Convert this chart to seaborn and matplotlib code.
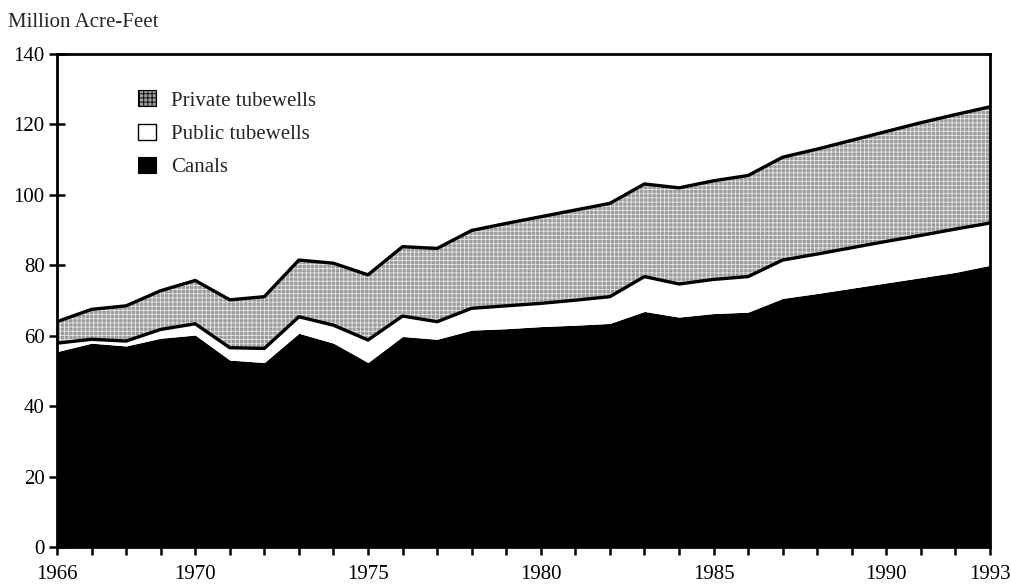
import matplotlib
matplotlib.use("Agg")
import matplotlib.pyplot as plt
import seaborn as sns
import pandas as pd
from matplotlib.patches import Patch

years = list(range(1966, 1994))
canals = [55.5, 57.9, 57.1, 59.3, 60.2, 53.1, 52.4, 60.7, 57.9, 52.4,
          59.8, 59.0, 61.6, 62.0, 62.6, 63.0, 63.5, 66.9, 65.3, 66.3,
          66.7, 70.6, 72.0, 73.5, 75.0, 76.5, 78.0, 80.0]
public_top = [57.9, 59.0, 58.5, 61.8, 63.4, 56.6, 56.4, 65.4, 63.0, 58.8,
              65.6, 64.0, 67.8, 68.5, 69.2, 70.1, 71.1, 76.8, 74.7, 76.0,
              76.8, 81.5, 83.2, 85.0, 86.8, 88.5, 90.3, 92.0]
private_top = [64.0, 67.5, 68.5, 72.8, 75.7, 70.2, 71.1, 81.5, 80.6, 77.3,
               85.3, 84.8, 89.9, 91.9, 93.8, 95.7, 97.6, 103.1, 102.0, 104.0,
               105.5, 110.7, 113.0, 115.5, 118.0, 120.5, 122.8, 125.0]
year_labels = [1966, 1970, 1975, 1980, 1985, 1990, 1993]
y_ticks = [0, 20, 40, 60, 80, 100, 120, 140]

df = pd.DataFrame({"year": years, "canals": canals,
                   "public": public_top, "private": private_top})

sns.set_theme(style="white")
plt.rcParams["font.family"] = ["Liberation Serif", "DejaVu Serif"]
plt.rcParams["hatch.linewidth"] = 0.6

fig = plt.figure(figsize=(10.11, 5.87), dpi=100)
ax = fig.add_axes([0.0564, 0.068, 0.9228, 0.840])

gray = "#9c9c9c"
# capas apiladas
ax.fill_between(df["year"], 0, df["canals"], color="black", lw=0)
ax.fill_between(df["year"], df["canals"], df["public"], color="white", lw=0)
ax.fill_between(df["year"], df["public"], df["private"], facecolor=gray,
                edgecolor="#e6e6e6", hatch="++++", lw=0)

sns.lineplot(data=df, x="year", y="public", color="black", lw=2.4, ax=ax)
sns.lineplot(data=df, x="year", y="private", color="black", lw=2.4, ax=ax)

ax.set_xlim(1966, 1993)
ax.set_ylim(0, 140)
ax.set_xticks(year_labels)
ax.set_xticklabels([str(y) for y in year_labels], fontsize=15)
ax.set_xticks(years, minor=True)
ax.set_yticks(y_ticks)
ax.set_yticklabels([str(v) for v in y_ticks], fontsize=15)
ax.set_xlabel("")
ax.set_ylabel("")

ax.tick_params(axis="y", direction="inout", length=12, width=1.8,
               left=True, pad=3, colors="black")
ax.tick_params(axis="x", which="both", direction="out", length=6,
               width=1.8, bottom=True, pad=7, colors="black")
for s in ax.spines.values():
    s.set_color("black")
    s.set_linewidth(2.0)

fig.text(0.008, 0.962, "Million Acre-Feet", fontsize=15, ha="left", va="center")

handles = [Patch(facecolor=gray, edgecolor="black", hatch="++++", lw=0.8),
           Patch(facecolor="white", edgecolor="black", lw=1.0),
           Patch(facecolor="black", edgecolor="black", lw=0.8)]
ax.legend(handles, ["Private tubewells", "Public tubewells", "Canals"],
          loc="upper left", bbox_to_anchor=(0.078, 0.943), frameon=False,
          fontsize=15, handlelength=0.85, handleheight=0.8,
          handletextpad=0.75, labelspacing=0.62, borderaxespad=0)

fig.savefig("out.png", dpi=100)
